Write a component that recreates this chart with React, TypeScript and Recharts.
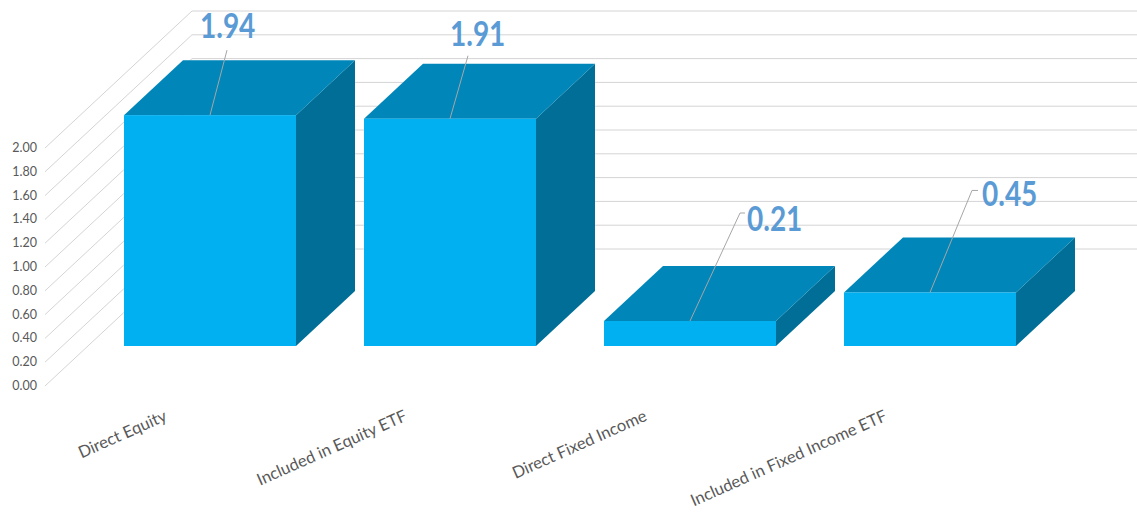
import React from "react";
import { BarChart, Bar, XAxis, YAxis, CartesianGrid, LabelList } from "recharts";

const categories = [
  "Direct Equity",
  "Included in Equity ETF",
  "Direct Fixed Income",
  "Included in Fixed Income ETF",
];
const values = [1.94, 1.91, 0.21, 0.45];
const yTicks = [0, 0.2, 0.4, 0.6, 0.8, 1.0, 1.2, 1.4, 1.6, 1.8, 2.0];

const data = categories.map((name, i) => ({ name, value: values[i] }));

// fake 3D projection
const DEPTH_X = 59;
const DEPTH_Y = -55;
const WALL_X = 147;
const WALL_Y = -137;
const AXIS_SHIFT_X = -45;
const AXIS_SHIFT_Y = 40;

// manual data label placement (text left/baseline, leader end) relative to bar top centre
const labelLayout = [
  { tx: -10, ty: -77, lx: 17, ly: -65, hook: 0 },
  { tx: 0, ty: -73, lx: 18, ly: -63, hook: 0 },
  { tx: 57, ty: -90, lx: 50, ly: -108, hook: 5 },
  { tx: 52, ty: -86, lx: 42, ly: -102, hook: 6 },
];

const FONT = "Lato, 'Open Sans', sans-serif";

function Box3D(props: any) {
  const { x, y, width, height } = props;
  const top = `${x},${y} ${x + DEPTH_X},${y + DEPTH_Y} ${x + width + DEPTH_X},${y + DEPTH_Y} ${x + width},${y}`;
  const side = `${x + width},${y} ${x + width + DEPTH_X},${y + DEPTH_Y} ${x + width + DEPTH_X},${y + height + DEPTH_Y} ${x + width},${y + height}`;
  return (
    <g>
      <polygon points={side} fill="#006E96" />
      <polygon points={top} fill="#0086B8" />
      <rect x={x} y={y} width={width} height={height} fill="#00B0F0" />
    </g>
  );
}

function GridLine(p: any) {
  const sx = p.x1 + AXIS_SHIFT_X;
  const sy = p.y1 + AXIS_SHIFT_Y;
  const wx = sx + WALL_X;
  const wy = sy + WALL_Y;
  return (
    <polyline
      key={`g-${p.index}`}
      points={`${sx},${sy} ${wx},${wy} ${p.x2 + 90},${wy}`}
      fill="none"
      stroke="#D4D4D4"
      strokeWidth={1}
    />
  );
}

function YTick(p: any) {
  return (
    <text
      x={p.x - 45}
      y={p.y + AXIS_SHIFT_Y}
      dy={4}
      textAnchor="end"
      fontSize={12.5}
      fontFamily={FONT}
      fill="#595959"
    >
      {Number(p.payload.value).toFixed(2)}
    </text>
  );
}

function XTick(p: any) {
  return (
    <text
      transform={`translate(${p.x - 42},${p.y + 66}) rotate(-24)`}
      textAnchor="end"
      fontSize={16.5}
      fontFamily={FONT}
      fill="#595959"
    >
      {p.payload.value}
    </text>
  );
}

function ValueLabel(p: any) {
  const { x, y, width, value, index } = p;
  const l = labelLayout[index];
  const cx = x + width / 2;
  return (
    <g>
      <polyline
        points={`${cx},${y} ${cx + l.lx},${y + l.ly} ${cx + l.lx + l.hook},${y + l.ly}`}
        fill="none"
        stroke="#A6A6A6"
        strokeWidth={1}
      />
      <text
        transform={`translate(${cx + l.tx},${y + l.ty}) scale(0.8,1)`}
        fontSize={35}
        fontWeight="bold"
        fontFamily={FONT}
        fill="#5B9BD5"
      >
        {Number(value).toFixed(2)}
      </text>
    </g>
  );
}

export default function App() {
  return (
    <div style={{ position: "absolute", left: 0, top: 0, background: "#fff" }}>
      <BarChart
        width={1137}
        height={512}
        data={data}
        margin={{ top: 108, right: 87, bottom: 66, left: 0 }}
      >
        <CartesianGrid vertical={false} horizontal={GridLine} />
        <YAxis
          domain={[0, 2]}
          ticks={yTicks}
          width={90}
          axisLine={false}
          tickLine={false}
          tick={YTick}
          interval={0}
        />
        <XAxis
          dataKey="name"
          axisLine={false}
          tickLine={false}
          tick={XTick}
          interval={0}
          height={100}
        />
        <Bar dataKey="value" barSize={172} shape={Box3D} isAnimationActive={false}>
          <LabelList dataKey="value" content={ValueLabel} />
        </Bar>
      </BarChart>
    </div>
  );
}
